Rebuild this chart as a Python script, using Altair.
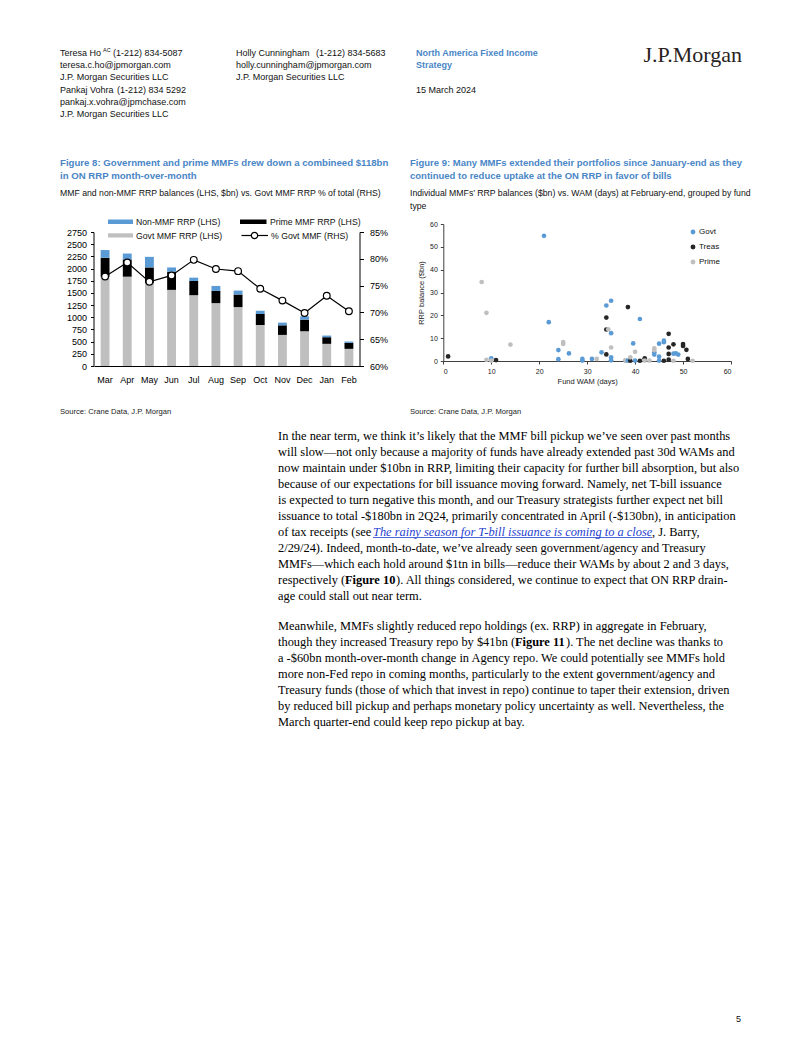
import altair as alt
import pandas as pd

# ---------------- Figure 8 data ----------------
months = ["Mar", "Apr", "May", "Jun", "Jul", "Aug", "Sep", "Oct", "Nov", "Dec", "Jan", "Feb"]
govt_mmf = [1830, 1833, 1700, 1562, 1453, 1290, 1209, 842, 638, 713, 455, 352]
prime_mmf = [390, 353, 323, 373, 292, 251, 258, 224, 197, 238, 136, 123]
non_mmf = [160, 122, 217, 88, 68, 102, 81, 68, 55, 68, 34, 27]
pct_govt = [76.7, 79.3, 75.7, 76.9, 79.8, 78.1, 77.7, 74.4, 72.2, 69.9, 73.1, 70.2]
bar_series = ["Govt MMF RRP (LHS)", "Prime MMF RRP (LHS)", "Non-MMF RRP (LHS)"]
y_ticks8 = [0, 250, 500, 750, 1000, 1250, 1500, 1750, 2000, 2250, 2500, 2750]
pct_ticks = [60, 65, 70, 75, 80, 85]

# ---------------- Figure 9 data ----------------
govt_wam = [10, 21, 22, 24, 24, 26.2, 29, 29, 31, 33, 34, 35, 35, 35, 35, 38, 38.5,
            39.6, 40, 41, 44, 44, 45, 45, 45, 46, 46, 48, 48.5, 49]
govt_rrp = [1.2, 54.8, 17.0, 4.8, 0.8, 3.3, 0.9, 0.2, 0.9, 3.8, 24.3, 26.4, 12.2, 1.6, 0.3, 0.2, 0.2,
            7.7, 0.2, 18.4, 3.8, 2.8, 7.6, 1.9, 0.2, 8.9, 8.2, 3.2, 3.3, 2.8]
treas_wam = [1, 11, 34, 34, 34, 38.5, 39, 41, 42, 46, 47, 47, 47, 47, 48, 50, 50, 50.7, 51]
treas_rrp = [2.0, 0.4, 19.0, 13.8, 2.9, 23.6, 0.1, 0.1, 1.2, 0.1, 11.9, 5.9, 3.1, 0.6, 7.3, 7.4, 6.6, 4.9, 0.9]
prime_wam = [8, 9, 9, 10, 14, 25, 25, 32, 34.4, 35, 38, 39, 40, 42, 43, 44, 44, 48, 52]
prime_rrp = [34.6, 21.1, 0.5, 0.2, 7.2, 8.3, 7.5, 0.9, 13.9, 5.9, 0.3, 1.6, 4.0, 0.2, 0.2, 5.5, 4.8, 0.1, 0.1]
fund_types = ["Govt", "Treas", "Prime"]
ticks9 = [0, 10, 20, 30, 40, 50, 60]

# ---------------- page text ----------------
body_p1 = [
    "In the near term, we think it\u2019s likely that the MMF bill pickup we\u2019ve seen over past months",
    "will slow\u2014not only because a majority of funds have already extended past 30d WAMs and",
    "now maintain under $10bn in RRP, limiting their capacity for further bill absorption, but also",
    "because of our expectations for bill issuance moving forward. Namely, net T-bill issuance",
    "is expected to turn negative this month, and our Treasury strategists further expect net bill",
    "issuance to total -$180bn in 2Q24, primarily concentrated in April (-$130bn), in anticipation",
    None,
    "2/29/24). Indeed, month-to-date, we\u2019ve already seen government/agency and Treasury",
    "MMFs\u2014which each hold around $1tn in bills\u2014reduce their WAMs by about 2 and 3 days,",
    None,
    "age could stall out near term.",
]
body_p2 = [
    "Meanwhile, MMFs slightly reduced repo holdings (ex. RRP) in aggregate in February,",
    None,
    "a -$60bn month-over-month change in Agency repo. We could potentially see MMFs hold",
    "more non-Fed repo in coming months, particularly to the extent government/agency and",
    "Treasury funds (those of which that invest in repo) continue to taper their extension, driven",
    "by reduced bill pickup and perhaps monetary policy uncertainty as well. Nevertheless, the",
    "March quarter-end could keep repo pickup at bay.",
]

# ---------------- layout helpers ----------------
OX, OY = 8, 8
W, H = 786, 1021
SANS = "Liberation Sans"
SERIF = "Liberation Serif"
BLUE_T = "#4a86c6"
BLANK = alt.InlineData(values=[{"k": 0}])


def px(x):
    return x - OX


def py(y):
    return y - OY


def T(s, x, y, size=9, font=SANS, color="#111111", weight="normal", style="normal", align="left"):
    return alt.Chart(BLANK).mark_text(
        text=s, font=font, fontSize=size, color=color, fontWeight=weight,
        fontStyle=style, align=align, baseline="middle"
    ).encode(x=alt.value(px(x)), y=alt.value(py(y)))


def R(x1, x2, y1, y2, color):
    return alt.Chart(BLANK).mark_rect(color=color).encode(
        x=alt.value(px(x1)), x2=alt.value(px(x2)), y=alt.value(py(y1)), y2=alt.value(py(y2)))


layers = []
# header
hdr = [
    ("Teresa Ho", 60, 53), ("(1-212) 834-5087", 113, 53),
    ("teresa.c.ho@jpmorgan.com", 60, 65), ("J.P. Morgan Securities LLC", 60, 77),
    ("Pankaj Vohra", 60, 90), ("(1-212) 834 5292", 117, 90),
    ("pankaj.x.vohra@jpmchase.com", 60, 102),
    ("J.P. Morgan Securities LLC", 60, 114),
    ("Holly Cunningham", 236, 53), ("(1-212) 834-5683", 316, 53),
    ("holly.cunningham@jpmorgan.com", 236, 65),
    ("J.P. Morgan Securities LLC", 236, 77), ("15 March 2024", 416, 90),
]
for s, x, y in hdr:
    layers.append(T(s, x, y))
layers.append(T("AC", 103, 50, size=5.5))
layers.append(T("North America Fixed Income", 416, 53, color=BLUE_T, weight="bold"))
layers.append(T("Strategy", 416, 65, color=BLUE_T, weight="bold"))
layers.append(T("J.P.Morgan", 742, 55, size=22, font=SERIF, color="#2a221e", align="right"))

# figure titles
TS = 9.65
layers.append(T("Figure 8: Government and prime MMFs drew down a combineed $118bn", 60, 163, size=TS, color=BLUE_T, weight="bold"))
layers.append(T("in ON RRP month-over-month", 60, 175.5, size=TS, color=BLUE_T, weight="bold"))
layers.append(T("MMF and non-MMF RRP balances (LHS, $bn) vs. Govt MMF RRP % of total (RHS)", 60, 193, size=8.7))
layers.append(T("Figure 9: Many MMFs extended their portfolios since January-end as they", 410, 163, size=9.5, color=BLUE_T, weight="bold"))
layers.append(T("continued to reduce uptake at the ON RRP in favor of bills", 410, 175.5, size=9.5, color=BLUE_T, weight="bold"))
layers.append(T("Individual MMFs\u2019 RRP balances ($bn) vs. WAM (days) at February-end, grouped by fund", 410, 193, size=8.7))
layers.append(T("type", 410, 206, size=8.7))

# figure 8 legend
LS = 8.7
layers.append(R(108, 133, 219.5, 224, "#5b9bd5"))
layers.append(T("Non-MMF RRP (LHS)", 136, 221.7, size=LS))
layers.append(R(108, 133, 233.3, 237.5, "#bfbfbf"))
layers.append(T("Govt MMF RRP (LHS)", 136, 235.5, size=LS))
layers.append(R(240, 266.5, 219.5, 224, "#000000"))
layers.append(T("Prime MMF RRP (LHS)", 270, 221.7, size=LS))
layers.append(alt.Chart(BLANK).mark_rule(color="#000", strokeWidth=1.2).encode(
    x=alt.value(px(241.5)), x2=alt.value(px(268)), y=alt.value(py(235.5))))
layers.append(alt.Chart(BLANK).mark_point(shape="circle", filled=True, fill="#ffffff", stroke="#000", strokeWidth=1.2, size=40, opacity=1).encode(
    x=alt.value(px(254.5)), y=alt.value(py(235.5))))
layers.append(T("% Govt MMF (RHS)", 271, 235.5, size=LS))

# sources
layers.append(T("Source: Crane Data, J.P. Morgan", 60, 412, size=7.6, color="#222"))
layers.append(T("Source: Crane Data, J.P. Morgan", 410, 412, size=7.6, color="#222"))

# body text
BS = 12.4
for i, s in enumerate(body_p1):
    if s is not None:
        layers.append(T(s, 278, 436 + 16 * i, size=BS, font=SERIF, color="#000"))
for i, s in enumerate(body_p2):
    if s is not None:
        layers.append(T(s, 278, 626 + 16 * i, size=BS, font=SERIF, color="#000"))
# mixed-style lines
y7 = 436 + 16 * 6
layers.append(T("of tax receipts (see", 278, y7, size=BS, font=SERIF, color="#000"))
layers.append(T("The rainy season for T-bill issuance is coming to a close", 373, y7, size=BS, font=SERIF, color="#1f3fd0", style="italic"))
layers.append(alt.Chart(BLANK).mark_rule(color="#1f3fd0", strokeWidth=0.8).encode(
    x=alt.value(px(373)), x2=alt.value(px(652)), y=alt.value(py(y7 + 5.5))))
layers.append(T(", J. Barry,", 652, y7, size=BS, font=SERIF, color="#000"))
y10 = 436 + 16 * 9
layers.append(T("respectively (", 278, y10, size=BS, font=SERIF, color="#000"))
layers.append(T("Figure 10", 345, y10, size=BS, font=SERIF, color="#000", weight="bold"))
layers.append(T("). All things considered, we continue to expect that ON RRP drain-", 396, y10, size=BS, font=SERIF, color="#000"))
y22 = 626 + 16
layers.append(T("though they increased Treasury repo by $41bn (", 278, y22, size=BS, font=SERIF, color="#000"))
layers.append(T("Figure 11", 515, y22, size=BS, font=SERIF, color="#000", weight="bold"))
layers.append(T("). The net decline was thanks to", 566, y22, size=BS, font=SERIF, color="#000"))
layers.append(T("5", 741, 1019, size=9, align="right"))

# ---------------- Figure 8 chart ----------------
rows = []
for i, m in enumerate(months):
    for k, (name, vals) in enumerate(zip(bar_series, [govt_mmf, prime_mmf, non_mmf])):
        rows.append({"month": m, "series": name, "value": vals[i], "k": k})
df8 = pd.DataFrame(rows)
dfp = pd.DataFrame({"month": months, "pct": pct_govt})

x8_scale = alt.Scale(domain=months, range=[px(94), px(360)], paddingInner=0.6, paddingOuter=0.3)
x8_axis = alt.Axis(orient="bottom", offset=py(366) - H, title=None, labelAngle=0, ticks=False,
                   tickSize=0, labelPadding=9, domainColor="#000", labelColor="#000",
                   labelFontSize=9, grid=False)

bars = alt.Chart(df8).mark_bar().encode(
    x=alt.X("month:N", scale=x8_scale, axis=x8_axis, sort=months),
    y=alt.Y("value:Q", stack="zero",
            scale=alt.Scale(domain=[0, 2750], range=[py(366), py(232)], nice=False, zero=True),
            axis=alt.Axis(orient="left", offset=-px(93.5), values=y_ticks8, title=None, grid=False,
                          format="d", tickSize=3, labelPadding=4, domainColor="#000", tickColor="#000",
                          labelColor="#000", labelFontSize=9)),
    color=alt.Color("series:N", scale=alt.Scale(domain=bar_series, range=["#bfbfbf", "#000000", "#5b9bd5"]), legend=None),
    order=alt.Order("k:Q"),
)

line = alt.Chart(dfp).mark_line(
    color="#000", strokeWidth=1.2,
    point=alt.OverlayMarkDef(shape="circle", filled=True, fill="#ffffff", stroke="#000", strokeWidth=1.2, size=45, opacity=1)
).encode(
    x=alt.X("month:N", scale=x8_scale, axis=x8_axis, sort=months),
    y=alt.Y("pct:Q", scale=alt.Scale(domain=[60, 85], range=[py(366), py(232)], nice=False, zero=False),
            axis=alt.Axis(orient="right", offset=px(359.5) - W, values=pct_ticks, title=None, grid=False,
                          tickSize=4, labelPadding=6, domainColor="#000", tickColor="#000",
                          labelColor="#000", labelFontSize=9, labelExpr="datum.value + '%'")),
)

fig8 = alt.layer(bars, line).resolve_scale(y="independent")

# ---------------- Figure 9 chart ----------------
df9 = pd.concat([
    pd.DataFrame({"wam": govt_wam, "rrp": govt_rrp, "type": "Govt"}),
    pd.DataFrame({"wam": treas_wam, "rrp": treas_rrp, "type": "Treas"}),
    pd.DataFrame({"wam": prime_wam, "rrp": prime_rrp, "type": "Prime"}),
], ignore_index=True)

scat = alt.Chart(df9).mark_circle(size=22, opacity=1).encode(
    x=alt.X("wam:Q", scale=alt.Scale(domain=[0, 60], range=[px(443.3), px(731)], nice=False, zero=True),
            axis=alt.Axis(orient="bottom", offset=py(361) - H, values=ticks9, title="Fund WAM (days)",
                          grid=False, tickSize=3, labelPadding=3, labelFontSize=7, titleFontSize=7.5,
                          titleFontWeight="normal", titlePadding=3, domainColor="#404040",
                          tickColor="#404040", labelColor="#222", titleColor="#222")),
    y=alt.Y("rrp:Q", scale=alt.Scale(domain=[0, 60], range=[py(361), py(224)], nice=False, zero=True),
            axis=alt.Axis(orient="left", offset=-px(443.3), values=ticks9, title="RRP balance ($bn)",
                          grid=False, tickSize=3, labelPadding=3, labelFontSize=7, titleFontSize=7.5,
                          titleFontWeight="normal", titlePadding=4, domainColor="#404040",
                          tickColor="#404040", labelColor="#222", titleColor="#222")),
    color=alt.Color("type:N", scale=alt.Scale(domain=fund_types, range=["#5b9bd5", "#262626", "#bfbfbf"]),
                    legend=alt.Legend(orient="none", legendX=px(689), legendY=py(228), title=None,
                                      symbolType="circle", symbolSize=24, labelFontSize=8,
                                      labelColor="#111", rowPadding=7, labelOffset=2, padding=0)),
    order=alt.Order("wam:Q"),
)

chart = alt.layer(*layers, fig8, scat).resolve_scale(
    x="independent", y="independent", color="independent"
).properties(
    width=W, height=H, padding=0, autosize=alt.AutoSizeParams(type="none")
).configure(font=SANS).configure_view(strokeWidth=0).configure_axis(labelFont=SANS, titleFont=SANS)

chart.save("out.html", embed_options={"renderer": "svg", "actions": False})
